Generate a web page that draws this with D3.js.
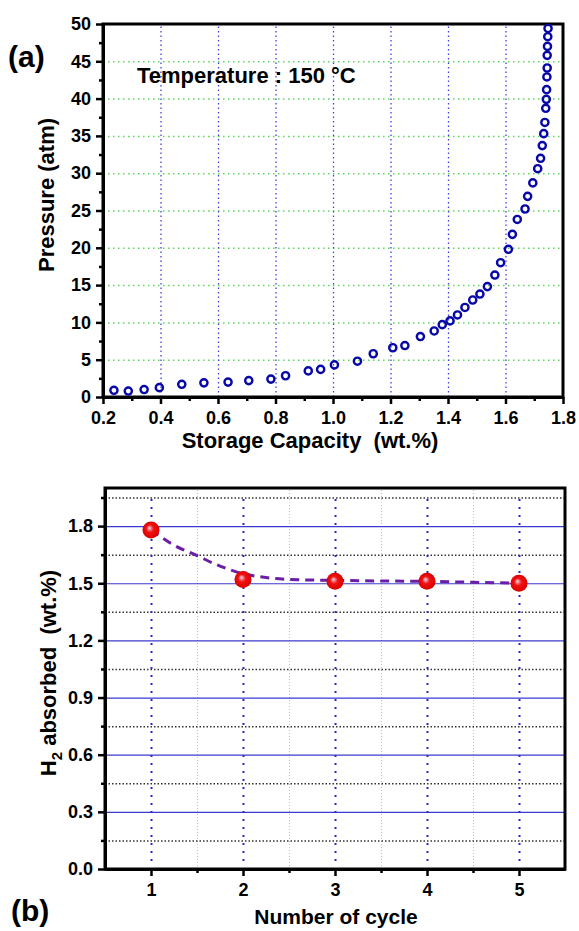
<!DOCTYPE html>
<html>
<head>
<meta charset="utf-8">
<script src="https://cdn.jsdelivr.net/npm/d3@7"></script>
<style>
	body { margin: 0; background: #fff; }
	svg text { font-family: "Liberation Sans", Arial, sans-serif; font-weight: bold; fill: #000; }
	.tick text { font-size: 18px; }
</style>
</head>
<body>
<svg id="chart" width="579" height="931"></svg>
<script>
// ---- (a) PCT isotherm, 150 C ----
var capacity = [0.238, 0.288, 0.343, 0.396, 0.474, 0.551, 0.635, 0.707, 0.784, 0.835,
	0.914, 0.957, 1.005, 1.085, 1.140, 1.208, 1.250, 1.304, 1.352, 1.380,
	1.407, 1.433, 1.459, 1.486, 1.511, 1.537, 1.563, 1.583, 1.610, 1.624,
	1.641, 1.668, 1.677, 1.695, 1.712, 1.722, 1.728, 1.733, 1.737, 1.740,
	1.742, 1.743, 1.744, 1.745, 1.745, 1.746, 1.747, 1.748];
var pressure = [0.9, 0.8, 1.0, 1.25, 1.7, 1.9, 2.0, 2.2, 2.4, 2.85,
	3.5, 3.7, 4.3, 4.8, 5.8, 6.6, 6.9, 8.1, 8.85, 9.7,
	10.2, 11.0, 12.0, 13.0, 13.8, 14.8, 16.35, 18.0, 19.8, 21.8,
	23.8, 25.2, 26.9, 28.7, 30.6, 32.0, 33.7, 35.3, 36.8, 38.7,
	39.9, 41.2, 42.9, 44.1, 45.8, 47.0, 48.3, 49.4];
var capTicks = [0.2, 0.4, 0.6, 0.8, 1.0, 1.2, 1.4, 1.6, 1.8];
var capMinor = [0.3, 0.5, 0.7, 0.9, 1.1, 1.3, 1.5, 1.7];
var presTicks = [0, 5, 10, 15, 20, 25, 30, 35, 40, 45, 50];
var presMinor = [2.5, 7.5, 12.5, 17.5, 22.5, 27.5, 32.5, 37.5, 42.5, 47.5];

// ---- (b) cycling ----
var cycles = [1, 2, 3, 4, 5];
var absorbed = [1.78, 1.52, 1.51, 1.51, 1.50];
var fitCycle = [1.0, 1.25, 1.5, 1.75, 2.0, 2.25, 2.5, 3.0, 3.5, 4.0, 4.5, 5.0];
var fitValue = [1.78, 1.70, 1.645, 1.59, 1.55, 1.53, 1.52, 1.515, 1.512, 1.51, 1.505, 1.50];
var cycleTicks = [1, 2, 3, 4, 5];
var cycleMinor = [1.5, 2.5, 3.5, 4.5];
var absTicks = [0.0, 0.3, 0.6, 0.9, 1.2, 1.5, 1.8];
var absMinor = [0.15, 0.45, 0.75, 1.05, 1.35, 1.65, 1.95];

var svg = d3.select("#chart");

// gradient for the red balls
var grad = svg.append("defs").append("radialGradient")
	.attr("id", "ball").attr("cx", "50%").attr("cy", "50%").attr("r", "55%")
	.attr("fx", "40%").attr("fy", "38%");
grad.append("stop").attr("offset", "0%").attr("stop-color", "#f6e6ee");
grad.append("stop").attr("offset", "18%").attr("stop-color", "#f07a86");
grad.append("stop").attr("offset", "40%").attr("stop-color", "#f01212");
grad.append("stop").attr("offset", "85%").attr("stop-color", "#e00000");
grad.append("stop").attr("offset", "100%").attr("stop-color", "#a80000");

// grid lines made from axes with long ticks
function gridLines(scale, values, vertical, at, len, color, width, dash) {
	var ax = (vertical ? d3.axisBottom(scale) : d3.axisLeft(scale))
		.tickValues(values).tickSize(-len).tickFormat("");
	var g = svg.append("g")
		.attr("transform", vertical ? "translate(0," + at + ")" : "translate(" + at + ",0)")
		.call(ax);
	g.select(".domain").remove();
	g.selectAll("line")
		.attr("stroke", color)
		.attr("stroke-width", width)
		.attr("stroke-dasharray", dash);
}

function drawAxis(axisFn, scale, major, minor, fmt, transform, pad) {
	var g1 = svg.append("g").attr("transform", transform)
		.call(axisFn(scale).tickValues(minor).tickSize(4).tickSizeOuter(0).tickFormat(""));
	var g2 = svg.append("g").attr("transform", transform)
		.call(axisFn(scale).tickValues(major).tickSize(7).tickSizeOuter(0).tickPadding(pad).tickFormat(fmt));
	[g1, g2].forEach(function(g) {
		g.select(".domain").attr("stroke", "#000").attr("stroke-width", 3);
		g.selectAll(".tick line").attr("stroke", "#000").attr("stroke-width", 2.5);
	});
}

// ================= (a) =================
var xA = d3.scaleLinear().domain([0.2, 1.8]).range([103, 563]);
var yA = d3.scaleLinear().domain([0, 50]).range([397, 24]);

gridLines(yA, presTicks.slice(1, -1), false, 103, 460, "#5ad85a", 1.5, "1.5,3.5");
gridLines(xA, capTicks.slice(1, -1), true, 397, 373, "#4040e8", 1.3, "1.5,3");

svg.append("rect")
	.attr("x", xA(0.2)).attr("y", yA(50))
	.attr("width", xA(1.8) - xA(0.2)).attr("height", yA(0) - yA(50))
	.attr("fill", "none").attr("stroke", "#000").attr("stroke-width", 3);

drawAxis(d3.axisBottom, xA, capTicks, capMinor, d3.format(".1f"), "translate(0,397)", 7);
drawAxis(d3.axisLeft, yA, presTicks, presMinor, d3.format("d"), "translate(103,0)", 5);

svg.append("g").selectAll("circle")
	.data(capacity)
	.enter().append("circle")
	.attr("cx", function(d) { return xA(d); })
	.attr("cy", function(d, i) { return yA(pressure[i]); })
	.attr("r", 3.6)
	.attr("fill", "none")
	.attr("stroke", "#0808a8")
	.attr("stroke-width", 2.4);

svg.append("text").attr("x", 8).attr("y", 67).style("font-size", "30px").text("(a)");
svg.append("text").attr("x", 137).attr("y", 83).style("font-size", "22px").text("Temperature : 150 °C");
svg.append("text")
	.attr("transform", "translate(54,195) rotate(-90)")
	.attr("text-anchor", "middle").style("font-size", "22px")
	.text("Pressure (atm)");
svg.append("text")
	.attr("x", 310).attr("y", 448)
	.attr("text-anchor", "middle").style("font-size", "22px").style("white-space", "pre")
	.text("Storage Capacity  (wt.%)");

// ================= (b) =================
var xB = d3.scaleLinear().domain([0.5, 5.5]).range([105, 565]);
var yB = d3.scaleLinear().domain([0, 2.0]).range([869, 488]);

gridLines(xB, cycleMinor, true, 869, 381, "#e4a8e4", 1, "1,2");
gridLines(yB, absMinor, false, 105, 460, "#333", 1.5, "1.5,2");
gridLines(yB, absTicks.slice(1), false, 105, 460, "#3a3ad0", 1.2, null);
gridLines(xB, cycleTicks, true, 861, 368, "#2a2ac8", 2, "2,6");

svg.append("rect")
	.attr("x", xB(0.5)).attr("y", yB(2.0))
	.attr("width", xB(5.5) - xB(0.5)).attr("height", yB(0) - yB(2.0))
	.attr("fill", "none").attr("stroke", "#000").attr("stroke-width", 3);

drawAxis(d3.axisBottom, xB, cycleTicks, cycleMinor, d3.format("d"), "translate(0,869)", 7);
drawAxis(d3.axisLeft, yB, absTicks, absMinor, d3.format(".1f"), "translate(105,0)", 5);

var fitLine = d3.line()
	.x(function(d) { return xB(d); })
	.y(function(d, i) { return yB(fitValue[i]); })
	.curve(d3.curveMonotoneX);

svg.append("path")
	.datum(fitCycle)
	.attr("d", fitLine)
	.attr("fill", "none")
	.attr("stroke", "#6a1fa6")
	.attr("stroke-width", 3)
	.attr("stroke-dasharray", "9,6");

svg.append("g").selectAll("circle")
	.data(cycles)
	.enter().append("circle")
	.attr("cx", function(d) { return xB(d); })
	.attr("cy", function(d, i) { return yB(absorbed[i]); })
	.attr("r", 8.5)
	.attr("fill", "url(#ball)");

svg.append("text").attr("x", 11).attr("y", 921).style("font-size", "30px").text("(b)");
var yl = svg.append("text")
	.attr("transform", "translate(56,673) rotate(-90)")
	.attr("text-anchor", "middle").style("font-size", "22px").style("white-space", "pre");
yl.append("tspan").text("H");
yl.append("tspan").attr("dy", 6).style("font-size", "15px").text("2");
yl.append("tspan").attr("dy", -6).text(" absorbed  (wt.%)");
svg.append("text")
	.attr("x", 336).attr("y", 924)
	.attr("text-anchor", "middle").style("font-size", "21px")
	.text("Number of cycle");
</script>
</body>
</html>
